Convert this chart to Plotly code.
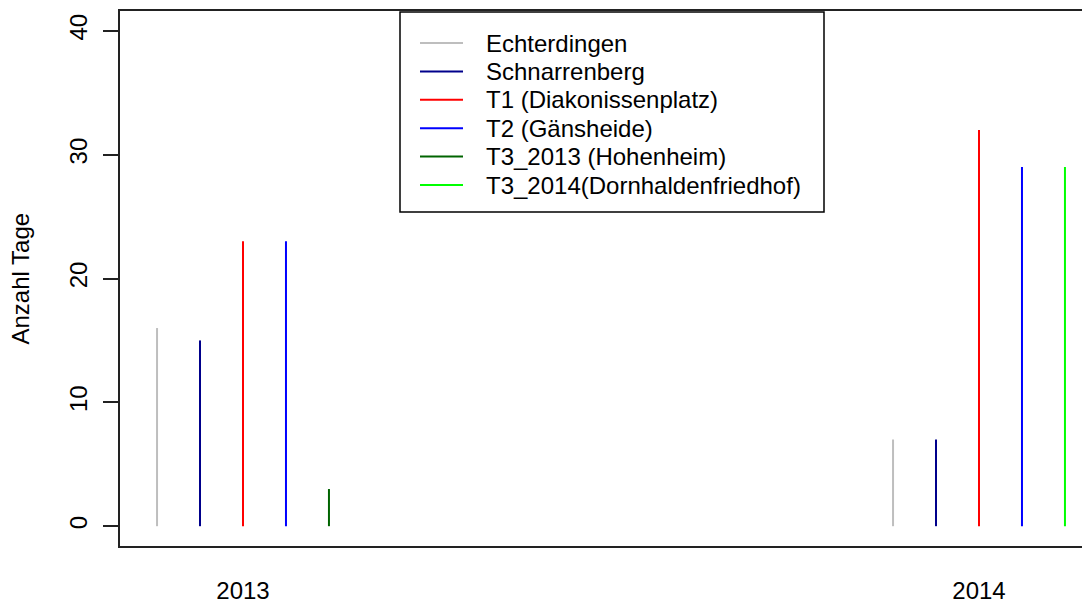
import plotly.graph_objects as go

# ---- data ----
years = [2013, 2014]
year_labels = ["2013", "2014"]
stations = ["Echterdingen", "Schnarrenberg", "T1 (Diakonissenplatz)",
            "T2 (Gänsheide)", "T3_2013 (Hohenheim)", "T3_2014(Dornhaldenfriedhof)"]
echterdingen = [16, 7]
schnarrenberg = [15, 7]
t1_diakonissenplatz = [23, 32]
t2_gaensheide = [23, 29]
t3_2013_hohenheim = [3, None]
t3_2014_dornhaldenfriedhof = [None, 29]
y_ticks = [0, 10, 20, 30, 40]

series_values = [echterdingen, schnarrenberg, t1_diakonissenplatz,
                 t2_gaensheide, t3_2013_hohenheim, t3_2014_dornhaldenfriedhof]

# ---- styling ----
colors = ["#BEBEBE", "#00008B", "#FF0000", "#0000FF", "#006400", "#00FF00"]
slots = [-2, -1, 0, 1, 2, 2]
slot_width = 0.0584
FONT = "Liberation Sans, Arial, sans-serif"
FS = 24
AXIS_COL = "#222222"

# page offset of the plot div (body margin) is compensated in the margins
PAGE_OFF = 8
W, H = 1090, 603 - PAGE_OFF
ML, MT = 120 - PAGE_OFF, 11 - PAGE_OFF
PH = 535
PW = W - ML          # plot area runs past the window's right edge
MB = H - MT - PH
PX_PER_YEAR = 736
x_left = years[0] - 123 / PX_PER_YEAR
x_right = x_left + PW / PX_PER_YEAR

fig = go.Figure()
for name, vals, col, slot in zip(stations, series_values, colors, slots):
    xs, ys = [], []
    for yr, v in zip(years, vals):
        if v is None:
            continue
        xp = yr + slot * slot_width
        xs += [xp, xp, None]
        ys += [0, v, None]
    fig.add_trace(go.Scatter(x=xs, y=ys, mode="lines", name=name,
                             line=dict(color=col, width=2), hoverinfo="skip",
                             showlegend=False))


def px_x(px):  # px from plot-area left -> paper
    return px / PW


def px_y(py):  # px from plot-area top -> paper
    return 1 - py / PH


# ---- legend (box + samples + labels) ----
box_l, box_r, box_t, box_b = 280, 704, 1, 201
row0, row_gap = 32, 28.4
seg_l, seg_r, txt_l = 300, 343, 364
shapes = [dict(type="rect", xref="paper", yref="paper",
               x0=px_x(box_l), x1=px_x(box_r), y0=px_y(box_b), y1=px_y(box_t),
               line=dict(color="black", width=1.5), fillcolor="white", layer="above")]
annotations = []
for i, (name, col) in enumerate(zip(stations, colors)):
    yc = row0 + i * row_gap
    shapes.append(dict(type="line", xref="paper", yref="paper",
                       x0=px_x(seg_l), x1=px_x(seg_r), y0=px_y(yc), y1=px_y(yc),
                       line=dict(color=col, width=2), layer="above"))
    annotations.append(dict(text=name, xref="paper", yref="paper",
                            x=px_x(txt_l), y=px_y(yc), xanchor="left", yanchor="middle",
                            showarrow=False,
                            font=dict(family=FONT, size=FS, color="black")))

annotations.append(dict(text="Anzahl Tage", xref="paper", yref="paper", x=0, y=0.5,
                        xshift=-100, textangle=-90, showarrow=False,
                        xanchor="center", yanchor="middle",
                        font=dict(family=FONT, size=FS, color="black")))

fig.update_layout(
    width=W, height=H,
    margin=dict(l=ML, r=0, t=MT, b=MB),
    paper_bgcolor="white", plot_bgcolor="white",
    font=dict(family=FONT, size=FS, color="black"),
    showlegend=False,
    shapes=shapes, annotations=annotations,
    xaxis=dict(range=[x_left, x_right], tickmode="array", tickvals=years,
               ticktext=year_labels, ticks="", showline=True, mirror=True,
               linecolor=AXIS_COL, linewidth=2, showgrid=False, zeroline=False,
               ticklabelstandoff=22, tickfont=dict(size=FS)),
    yaxis=dict(range=[-1.6, 41.6], tickmode="array", tickvals=y_ticks,
               ticks="outside", ticklen=15, tickwidth=2, tickcolor=AXIS_COL,
               tickangle=-90, showline=True, mirror=False, ticklabelstandoff=6,
               linecolor=AXIS_COL, linewidth=2, showgrid=False, zeroline=False,
               tickfont=dict(size=FS)),
)

fig.write_html("out.html")
